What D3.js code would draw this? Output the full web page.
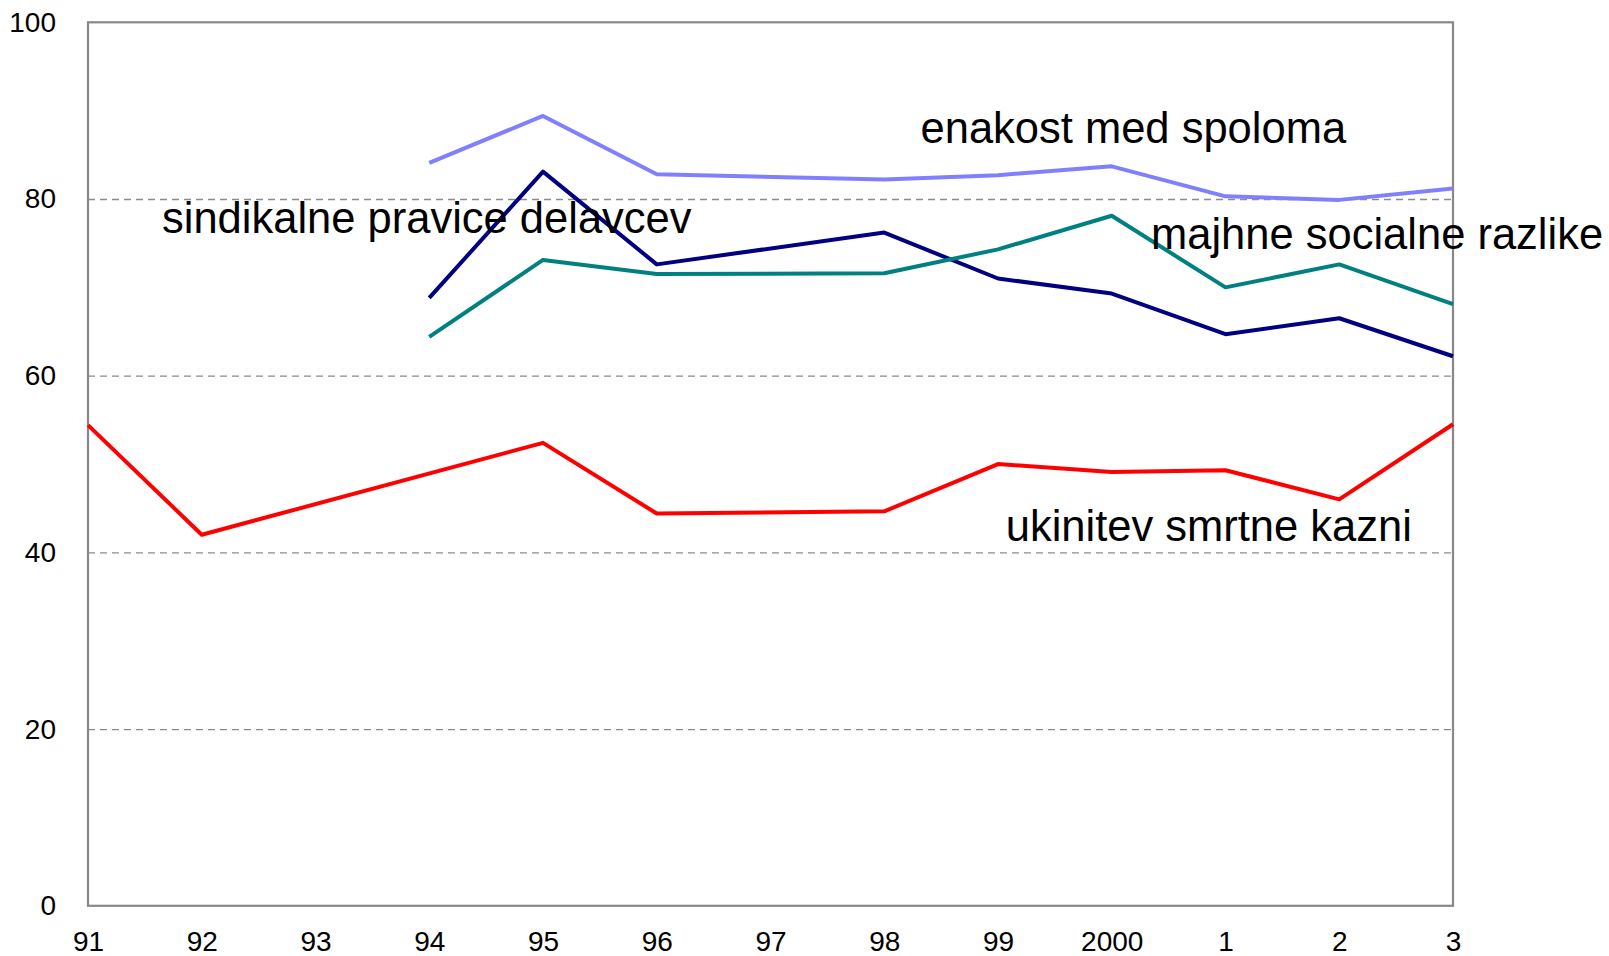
<!DOCTYPE html>
<html>
<head>
<meta charset="utf-8">
<script src="https://cdn.jsdelivr.net/npm/d3@7"></script>
<style>
	body { margin: 0; background: #fff; }
	text { font-family: "Liberation Sans", Arial, sans-serif; fill: #000; }
</style>
</head>
<body>
<div id="chart"></div>
<script>
// years 1991..2003, labelled the way the source does
var years = ["91", "92", "93", "94", "95", "96", "97", "98", "99", "2000", "1", "2", "3"];
var yTicks = [0, 20, 40, 60, 80, 100];

// null = no survey that year
var enakost    = [null, null, null, 84.1, 89.4, 82.8, null, 82.2, 82.7, 83.7, 80.3, 79.9, 81.2];
var sindikalne = [null, null, null, 68.8, 83.1, 72.6, null, 76.2, 71.0, 69.3, 64.7, 66.5, 62.2];
var majhne     = [null, null, null, 64.4, 73.1, 71.5, null, 71.6, 74.3, 78.1, 70.0, 72.6, 68.1];
var ukinitev   = [54.4, 42.0, null, null, 52.4, 44.4, null, 44.65, 50.0, 49.1, 49.3, 46.0, 54.5];

var seriesNames = ["enakost med spoloma", "sindikalne pravice delavcev", "majhne socialne razlike", "ukinitev smrtne kazni"];
var seriesColors = ["#8080ff", "#000080", "#008080", "#ff0000"];

var W = 1609, H = 956;
var margin = {top: 22.3, right: 156, bottom: 50.2, left: 88};
var width = W - margin.left - margin.right,
	height = H - margin.top - margin.bottom;

var svg = d3.select("#chart").append("svg")
	.attr("width", W)
	.attr("height", H);

var g = svg.append("g")
	.attr("transform", "translate(" + margin.left + "," + margin.top + ")");

var x = d3.scalePoint().domain(years).range([0, width]);
var y = d3.scaleLinear().domain([0, 100]).range([height, 0]);

// dashed gridlines
g.append("g")
	.attr("class", "grid")
	.call(d3.axisLeft(y).tickValues([20, 40, 60, 80]).tickSize(-width).tickFormat(""))
	.call(function(s) {
		s.select(".domain").remove();
		s.selectAll("line").attr("stroke", "#8c8c8c").attr("stroke-width", 1.3).attr("stroke-dasharray", "7,5");
	});

// plot frame
g.append("rect")
	.attr("width", width)
	.attr("height", height)
	.attr("fill", "none")
	.attr("stroke", "#888")
	.attr("stroke-width", 2.2);

g.append("g")
	.attr("transform", "translate(0," + height + ")")
	.call(d3.axisBottom(x).tickSize(0).tickPadding(25))
	.call(function(s) {
		s.select(".domain").remove();
		s.selectAll("text").attr("font-size", 28).attr("font-family", "Liberation Sans, Arial, sans-serif");
	});

g.append("g")
	.call(d3.axisLeft(y).tickValues(yTicks).tickSize(0).tickPadding(32))
	.call(function(s) {
		s.select(".domain").remove();
		s.selectAll("text").attr("font-size", 28).attr("font-family", "Liberation Sans, Arial, sans-serif");
	});

var line = d3.line()
	.x(function(d) { return x(d.year); })
	.y(function(d) { return y(d.value); });

[enakost, sindikalne, majhne, ukinitev].forEach(function(vals, i) {
	var pts = years.map(function(yr, j) { return {year: yr, value: vals[j]}; })
		.filter(function(d) { return d.value != null; });
	g.append("path")
		.datum(pts)
		.attr("fill", "none")
		.attr("stroke", seriesColors[i])
		.attr("stroke-width", 4)
		.attr("stroke-linejoin", "round")
		.attr("d", line);
});

// series labels placed inside the plot
var labelPos = [[920.5, 142.6], [162, 233], [1151, 249.4], [1005.7, 540.8]];
svg.selectAll(".lbl")
	.data(seriesNames)
	.enter().append("text")
	.attr("class", "lbl")
	.attr("x", function(d, i) { return labelPos[i][0]; })
	.attr("y", function(d, i) { return labelPos[i][1]; })
	.attr("font-size", 43.5)
	.text(function(d) { return d; });
</script>
</body>
</html>
